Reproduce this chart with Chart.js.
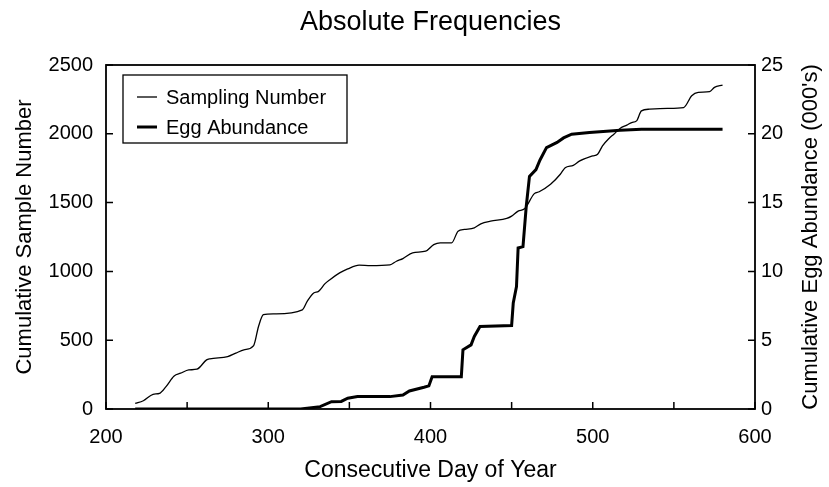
<!DOCTYPE html>
<html>
<head>
<meta charset="utf-8">
<script src="https://cdn.jsdelivr.net/npm/chart.js@4.4.1/dist/chart.umd.min.js"></script>
<style>
  html, body { margin: 0; padding: 0; background: #ffffff; }
  #wrap { width: 829px; height: 487px; position: relative; }
</style>
</head>
<body>
<div id="wrap"><canvas id="c" width="829" height="487"></canvas></div>
<script>
// ---- Data ----
const chartTitle = "Absolute Frequencies";
const xAxisTitle = "Consecutive Day of Year";
const leftAxisTitle = "Cumulative Sample Number";
const rightAxisTitle = "Cumulative Egg Abundance (000's)";
const seriesNames = ["Sampling Number", "Egg Abundance"];

const xLabelValues = [200, 300, 400, 500, 600];

const samplingDays = [218, 223, 229, 233, 237, 242, 246, 251, 256, 262, 264, 275, 280, 285, 291, 294, 297, 303,
  305, 321, 324, 328, 331, 335, 338, 344, 349, 356, 363, 375, 379, 383, 389, 397, 402, 406, 413, 417, 421,
  427, 431, 437, 447, 450, 454, 458, 464, 467, 474, 480, 483, 488, 492, 500, 503, 506, 510, 513, 517, 521,
  524, 527, 530, 535, 546, 556, 561, 565, 572, 575, 580];
const samplingCounts = [41, 60, 107, 114, 163, 240, 260, 284, 289, 357, 365, 381, 406, 430, 461, 600, 685, 692,
  692, 721, 782, 843, 855, 911, 940, 989, 1018, 1045, 1042, 1047, 1074, 1093, 1135, 1147, 1195, 1208, 1208, 1292, 1305,
  1317, 1346, 1365, 1385, 1402, 1438, 1455, 1565, 1579, 1633, 1706, 1754, 1771, 1803, 1839, 1851, 1912, 1966, 1997, 2041, 2063,
  2082, 2094, 2167, 2179, 2185, 2191, 2277, 2301, 2306, 2337, 2354];

const eggDays = [218, 320, 332, 339, 345, 349, 355, 375, 383, 387, 396, 399, 401, 419, 420, 425, 427, 430.5,
  450, 451, 453, 454, 457, 459, 461, 465, 467.5, 471.5, 478, 482, 487, 498, 517, 530, 580];
const eggThousands = [0, 0, 0.17, 0.53, 0.55, 0.78, 0.9, 0.9, 1.02, 1.31, 1.58, 1.68, 2.35, 2.35, 4.3, 4.66, 5.27, 6.0,
  6.07, 7.7, 8.9, 11.7, 11.8, 14.7, 16.9, 17.4, 18.1, 19.0, 19.37, 19.7, 19.97, 20.09, 20.26, 20.33, 20.33];

// ---- Build chart ----
const FONT = "'Liberation Sans', Arial, Helvetica, sans-serif";

const centerTitleOnPlot = {
  id: 'centerTitleOnPlot',
  afterLayout(chart) {
    const tb = chart.titleBlock;
    if (tb) {
      tb.left = chart.chartArea.left;
      tb.right = chart.chartArea.right;
      tb.width = tb.right - tb.left;
    }
  }
};

const frameAndTicks = {
  id: 'frameAndTicks',
  afterDatasetsDraw(chart) {
    const ctx = chart.ctx;
    const a = chart.chartArea;
    const xs = chart.scales.x, yl = chart.scales.y, yr = chart.scales.y1;
    ctx.save();
    ctx.strokeStyle = '#000';
    ctx.lineWidth = 1.5;
    ctx.beginPath();
    xs.ticks.forEach(t => {
      const px = xs.getPixelForValue(t.value);
      ctx.moveTo(px, a.bottom); ctx.lineTo(px, a.bottom - 7);
    });
    yl.ticks.forEach(t => {
      const py = yl.getPixelForValue(t.value);
      ctx.moveTo(a.left, py); ctx.lineTo(a.left + 7, py);
    });
    yr.ticks.forEach(t => {
      const py = yr.getPixelForValue(t.value);
      ctx.moveTo(a.right, py); ctx.lineTo(a.right - 7, py);
    });
    ctx.stroke();
    ctx.lineWidth = 1.8;
    ctx.strokeRect(a.left, a.top, a.right - a.left, a.bottom - a.top);

    // right axis title, reading bottom-to-top like the left one
    ctx.fillStyle = '#000';
    ctx.font = "22px " + FONT;
    ctx.textAlign = 'center';
    ctx.textBaseline = 'middle';
    ctx.translate(811, (a.top + a.bottom) / 2);
    ctx.rotate(-Math.PI / 2);
    ctx.fillText(rightAxisTitle, 0, 0);
    ctx.restore();
  }
};

const boxLegend = {
  id: 'boxLegend',
  afterDraw(chart) {
    const ctx = chart.ctx;
    const a = chart.chartArea;
    const bx = a.left + 17, by = a.top + 10, bw = 224, bh = 68;
    ctx.save();
    ctx.fillStyle = '#fff';
    ctx.fillRect(bx, by, bw, bh);
    ctx.strokeStyle = '#000';
    ctx.lineWidth = 1.3;
    ctx.strokeRect(bx, by, bw, bh);
    ctx.font = "20px " + FONT;
    ctx.textBaseline = 'middle';
    ctx.textAlign = 'left';
    chart.data.datasets.forEach((ds, i) => {
      const cy = by + 22 + i * 30;
      ctx.beginPath();
      ctx.lineWidth = ds.borderWidth;
      ctx.strokeStyle = ds.borderColor;
      ctx.moveTo(bx + 14, cy); ctx.lineTo(bx + 34, cy);
      ctx.stroke();
      ctx.fillStyle = '#000';
      ctx.fillText(ds.label, bx + 43, cy + 1);
    });
    ctx.restore();
  }
};

new Chart(document.getElementById('c'), {
  type: 'line',
  data: {
    datasets: [
      {
        label: seriesNames[0],
        data: samplingDays.map((d, i) => ({ x: d, y: samplingCounts[i] })),
        borderColor: '#000', borderWidth: 1.3, pointRadius: 0, cubicInterpolationMode: 'monotone', yAxisID: 'y', fill: false
      },
      {
        label: seriesNames[1],
        data: eggDays.map((d, i) => ({ x: d, y: eggThousands[i] })),
        borderColor: '#000', borderWidth: 3, pointRadius: 0, tension: 0, yAxisID: 'y1', fill: false
      }
    ]
  },
  options: {
    responsive: false,
    animation: false,
    layout: { padding: 0 },
    plugins: {
      legend: { display: false },
      tooltip: { enabled: false },
      title: {
        display: true, text: chartTitle, color: '#000',
        font: { family: FONT, size: 27, weight: 'normal' },
        padding: { top: 6, bottom: 26.6 }
      }
    },
    scales: {
      x: {
        type: 'linear', min: 200, max: 600,
        grid: { display: false, drawTicks: false },
        border: { display: false },
        ticks: {
          stepSize: 50, autoSkip: false, color: '#000', padding: 16,
          font: { family: FONT, size: 20 }, maxRotation: 0,
          callback: v => xLabelValues.includes(v) ? String(v) : ''
        },
        title: { display: true, text: xAxisTitle, color: '#000', font: { family: FONT, size: 23 }, padding: { top: 0, bottom: 3 } },
        afterFit: s => { s.height = 78; }
      },
      y: {
        position: 'left', min: 0, max: 2500,
        grid: { display: false, drawTicks: false },
        border: { display: false },
        ticks: { stepSize: 500, color: '#000', padding: 13, font: { family: FONT, size: 20 }, callback: v => String(v) },
        title: { display: true, text: leftAxisTitle, color: '#000', font: { family: FONT, size: 22 }, padding: { top: 12, bottom: 0 } },
        afterFit: s => { s.width = 106; }
      },
      y1: {
        position: 'right', min: 0, max: 25,
        grid: { display: false, drawTicks: false },
        border: { display: false },
        ticks: { stepSize: 5, color: '#000', padding: 6, font: { family: FONT, size: 20 }, callback: v => String(v) },
        title: { display: false, text: rightAxisTitle },
        afterFit: s => { s.width = 74; }
      }
    }
  },
  plugins: [centerTitleOnPlot, frameAndTicks, boxLegend]
});
</script>
</body>
</html>
